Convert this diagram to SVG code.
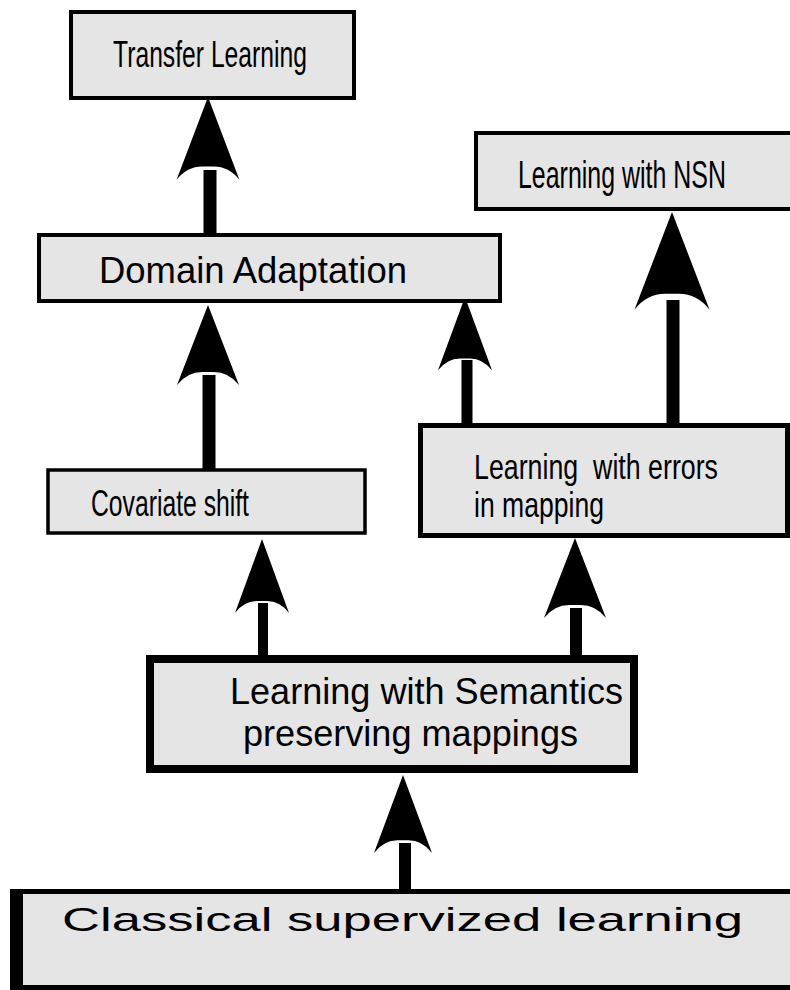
<svg xmlns="http://www.w3.org/2000/svg" xmlns:xlink="http://www.w3.org/1999/xlink" width="790" height="990" viewBox="0 0 790 990">
  <style>
    .box { fill: #e5e5e5; stroke: #000; }
    .narrow { font-family: "Liberation Sans Narrow", "Liberation Sans", Arial, sans-serif; fill: #000; }
    .wide { font-family: "Liberation Sans", Arial, sans-serif; fill: #000; }
    .shaft { stroke: #000; stroke-linecap: butt; }
    .head { fill: #000; }
  </style>
  <defs>
    <!-- arrowhead with concave base, tip at origin, pointing up -->
    <path id="head" d="M0,0 L27,74 Q18,62 5,62 L-5,62 Q-18,62 -27,74 Z"/>
  </defs>

  <rect width="790" height="990" fill="#fff"/>

  <g id="connectors">
    <!-- Domain Adaptation -> Transfer Learning -->
    <line class="shaft" x1="210" y1="170" x2="210" y2="235" stroke-width="13"/>
    <use class="head" xlink:href="#head" transform="translate(208,97) scale(1.167,1.12)"/>
    <!-- Covariate shift -> Domain Adaptation -->
    <line class="shaft" x1="209" y1="375" x2="209" y2="470" stroke-width="13"/>
    <use class="head" xlink:href="#head" transform="translate(208,305) scale(1.148,1.08)"/>
    <!-- Errors in mapping -> Domain Adaptation -->
    <line class="shaft" x1="467" y1="360" x2="467" y2="426" stroke-width="11"/>
    <use class="head" xlink:href="#head" transform="translate(465,297) scale(1,0.99)"/>
    <!-- Errors in mapping -> NSN -->
    <line class="shaft" x1="673" y1="300" x2="673" y2="426" stroke-width="13"/>
    <use class="head" xlink:href="#head" transform="translate(672,212) scale(1.39,1.32)"/>
    <!-- Semantics preserving -> Covariate shift -->
    <line class="shaft" x1="263" y1="603" x2="263" y2="658" stroke-width="10"/>
    <use class="head" xlink:href="#head" transform="translate(262,539)"/>
    <!-- Semantics preserving -> Errors in mapping -->
    <line class="shaft" x1="576" y1="608" x2="576" y2="658" stroke-width="12"/>
    <use class="head" xlink:href="#head" transform="translate(575,538) scale(1.148,1.08)"/>
    <!-- Classical -> Semantics preserving -->
    <line class="shaft" x1="405" y1="843" x2="405" y2="892" stroke-width="12"/>
    <use class="head" xlink:href="#head" transform="translate(403,775) scale(1.074,1.054)"/>
  </g>

  <g id="transfer-learning">
    <rect class="box" x="71" y="12" width="283" height="86" stroke-width="4"/>
    <text class="narrow" x="113" y="67" font-size="37" textLength="194" lengthAdjust="spacingAndGlyphs">Transfer Learning</text>
  </g>

  <g id="domain-adaptation">
    <rect class="box" x="39" y="235" width="461" height="66" stroke-width="4"/>
    <text class="wide" x="99" y="283" font-size="37" textLength="308" lengthAdjust="spacingAndGlyphs">Domain Adaptation</text>
  </g>

  <g id="learning-nsn">
    <rect class="box" x="476" y="133" width="330" height="76" stroke-width="4"/>
    <text class="narrow" x="518" y="188" font-size="39" textLength="208" lengthAdjust="spacingAndGlyphs">Learning with NSN</text>
  </g>

  <g id="covariate-shift">
    <rect class="box" x="48" y="470" width="317" height="63" stroke-width="3.5"/>
    <text class="narrow" x="91" y="516" font-size="36" textLength="158" lengthAdjust="spacingAndGlyphs">Covariate shift</text>
  </g>

  <g id="errors-in-mapping">
    <rect class="box" x="420.5" y="425.5" width="367" height="110" stroke-width="5"/>
    <text class="narrow" x="474" y="479" font-size="35" textLength="244" lengthAdjust="spacingAndGlyphs" xml:space="preserve">Learning  with errors</text>
    <text class="narrow" x="474" y="517" font-size="35" textLength="130" lengthAdjust="spacingAndGlyphs">in mapping</text>
  </g>

  <g id="semantics-preserving">
    <rect class="box" x="150" y="659" width="484" height="110" stroke-width="8"/>
    <text class="wide" x="230" y="704" font-size="37" textLength="393" lengthAdjust="spacingAndGlyphs">Learning with Semantics</text>
    <text class="wide" x="243" y="746" font-size="37" textLength="335" lengthAdjust="spacingAndGlyphs">preserving mappings</text>
  </g>

  <g id="classical-supervised">
    <rect class="box" x="12.5" y="891.5" width="800" height="96" stroke-width="5"/>
    <rect x="10" y="889" width="13" height="100" fill="#000"/>
    <text class="wide" x="62" y="931" font-size="34" textLength="681" lengthAdjust="spacingAndGlyphs">Classical supervized learning</text>
  </g>
</svg>
